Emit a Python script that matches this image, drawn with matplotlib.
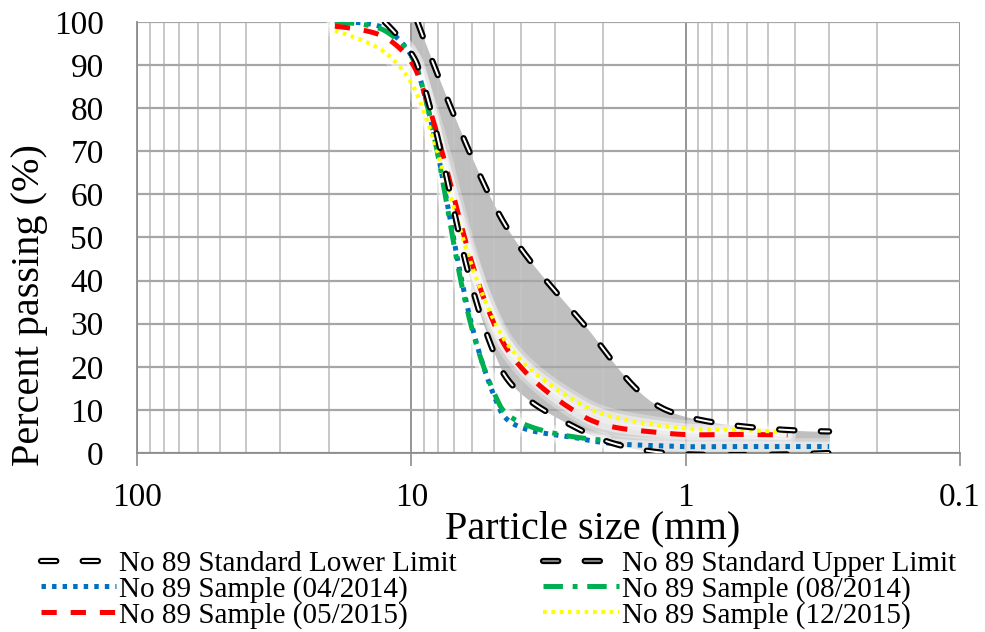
import numpy as np
import matplotlib
matplotlib.use('Agg')
import matplotlib.pyplot as plt
from matplotlib.lines import Line2D
from matplotlib.legend_handler import HandlerTuple

plt.rcParams['font.family'] = ['Liberation Serif', 'DejaVu Serif']
plt.rcParams['lines.scale_dashes'] = False

# standard limits (ASTM No 89)
lower_size = [12.5, 9.5, 4.75, 2.36, 1.18, 0.3]
lower_pass = [100, 90, 20, 5, 0, 0]
upper_size = [9.5, 4.75, 2.36, 1.18, 0.3]
upper_pass = [100, 55, 30, 10, 5]

# samples
s0414_size = [19, 12.5, 9.5, 4.75, 2.36, 1.18, 0.6, 0.3]
s0414_pass = [100, 98.5, 89, 10, 3.2, 1.6, 1.5, 1.5]
s0814_size = [19, 12.5, 9.5, 4.75, 2.0]
s0814_pass = [100, 98, 89, 11, 3]
s0515_size = [19, 12.5, 9.5, 4.75, 2.36, 1.18, 0.6, 0.425]
s0515_pass = [99, 96.5, 88, 27, 8.5, 4.6, 4.3, 4.2]
s1215_size = [19, 12.5, 9.5, 4.75, 2.36, 1.18, 0.6, 0.425]
s1215_pass = [98, 93, 83, 28, 11, 6.2, 5.3, 4.9]

# pixels per decade / per percent, used for the smoothing distances
SX, SY = 274.5, 4.31


def smooth(xs, ys, n=40):
    # excel-like smoothed line: bezier, tangents weighted by segment length
    pts = np.column_stack([np.log10(xs) * SX, np.array(ys) * SY]).astype(float)
    P = np.vstack([pts[0], pts, pts[-1]])
    t = np.linspace(0, 1, n)[:, None]
    out = []
    for i in range(1, len(P) - 2):
        p0, p1, p2, p3 = P[i - 1], P[i], P[i + 1], P[i + 2]
        d01 = np.hypot(*(p1 - p0))
        d12 = np.hypot(*(p2 - p1))
        d23 = np.hypot(*(p3 - p2))
        f1 = d12 / (d01 + d12) / 3 if d01 > 0 else 0
        f2 = d12 / (d12 + d23) / 3 if d23 > 0 else 0
        c1 = p1 + (p2 - p0) * f1
        c2 = p2 - (p3 - p1) * f2
        seg = (1 - t)**3 * p1 + 3 * (1 - t)**2 * t * c1 + 3 * (1 - t) * t**2 * c2 + t**3 * p2
        out.append(seg if i == 1 else seg[1:])
    s = np.vstack(out)
    return 10**(s[:, 0] / SX), s[:, 1] / SY


fig = plt.figure(figsize=(9.85, 6.32), dpi=100)
ax = fig.add_axes([137/985, 1 - 453/632, (960 - 137)/985, (453 - 22)/632])
ax.set_xscale('log')
ax.set_xlim(100, 0.1)
ax.set_ylim(0, 100)

# gray band between limits
lx, ly = smooth(lower_size, lower_pass)
ux, uy = smooth(upper_size, upper_pass)
gu = np.linspace(np.log10(0.3), 1, 300)
lo = np.interp(gu, np.log10(lx)[::-1], ly[::-1])
hi = np.interp(gu, np.log10(ux)[::-1], uy[::-1], left=5, right=100)
ax.fill_between(10**gu, lo, hi, color='#BFBFBF', lw=0, zorder=0.2)

# grid
ax.set_axisbelow('line')
ax.set_xticks([100, 10, 1, 0.1])
ax.set_xticklabels(['100', '10', '1', '0.1'])
ax.set_xticks([m * d for d in [10, 1, 0.1] for m in range(2, 10)], minor=True)
ax.set_yticks(range(0, 101, 10))
ax.grid(True, which='major', axis='x', color='#8C8C8C', lw=1.3)
ax.grid(True, which='minor', axis='x', color='#C4C4C4', lw=1.3)
ax.grid(True, which='major', axis='y', color='#A6A6A6', lw=1.6)
ax.tick_params(axis='x', which='major', length=9, width=1.2, color='#8C8C8C',
               labelsize=24, pad=12)
ax.tick_params(axis='x', which='minor', length=0)
ax.tick_params(axis='y', length=0, labelsize=24, pad=24)
for s in ['top', 'right']:
    ax.spines[s].set_visible(False)
for s in ['left', 'bottom']:
    ax.spines[s].set_color('#8C8C8C')
    ax.spines[s].set_linewidth(1.3)

# limit lines: black dashes with white core
dash = (11, 19)
hl = []
for x, y in [(lx, ly), (ux, uy)]:
    a, = ax.plot(x, y, color='black', lw=4.5, dashes=dash, dash_capstyle='round', zorder=4)
    b, = ax.plot(x, y, color='white', lw=1.4, dashes=dash, dash_capstyle='round', zorder=4.1)
    hl.append((a, b))

samples = [
    (s0414_size, s0414_pass, '#0070C0', (3.2, 4.4), 3.6),
    (s0814_size, s0814_pass, '#00B050', (14, 7, 3.5, 7), 3.6),
    (s0515_size, s0515_pass, '#FF0000', (11, 10), 3.6),
    (s1215_size, s1215_pass, '#FFFF00', (2.6, 3.4), 3.0),
]
sl = []
for i, (sz, pc, c, d, w) in enumerate(samples):
    x, y = smooth(sz, pc)
    ax.plot(x, y, color='white', lw=12, alpha=0.3, solid_capstyle='round', zorder=2.2)
    ax.plot(x, y, color='white', lw=7, alpha=0.45, solid_capstyle='round', zorder=2.3)
    ln, = ax.plot(x, y, color=c, lw=w, dashes=d, zorder=3 + i * 0.1)
    sl.append(ln)

ax.set_xlabel('Particle size (mm)', fontsize=29)
ax.xaxis.set_label_coords((593 - 137) / 823, -0.133)
ax.set_ylabel('Percent passing (%)', fontsize=29)
ax.yaxis.set_label_coords(-0.108, (453 - 305) / 431)

# legend proxies
up_leg = (Line2D([], [], color='black', lw=4.5, dashes=dash, dash_capstyle='round'),
          Line2D([], [], color='#808080', lw=1.4, dashes=dash, dash_capstyle='round'))
handles = [hl[0], sl[0], sl[2], up_leg, sl[1], sl[3]]
labels = ['No 89 Standard Lower Limit', 'No 89 Sample (04/2014)', 'No 89 Sample (05/2015)',
          'No 89 Standard Upper Limit', 'No 89 Sample (08/2014)', 'No 89 Sample (12/2015)']
fig.legend(handles, labels, ncol=2, loc='upper left', bbox_to_anchor=(26/985, 1 - 536/632),
           frameon=False, fontsize=21, handlelength=2.6, handletextpad=0.1,
           columnspacing=2.95, labelspacing=-0.04, borderpad=0,
           handler_map={tuple: HandlerTuple(ndivide=1, pad=0)})

fig.savefig('out.png', dpi=100)
